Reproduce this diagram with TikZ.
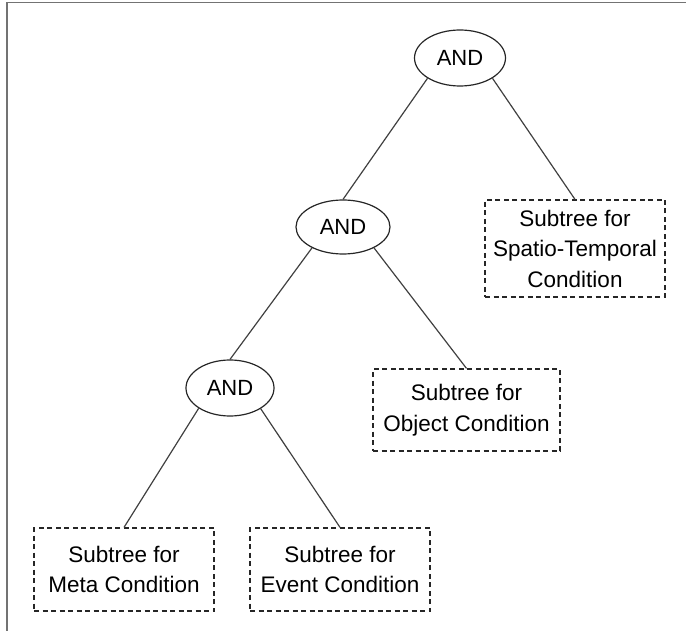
\documentclass[tikz,border=0pt]{standalone}
\usepackage{fontspec}
\setmainfont{Liberation Sans}
\usetikzlibrary{shapes.geometric}

\tikzset{
  andnode/.style={ellipse, draw=black!85, line width=1.2pt, inner sep=0pt,
    minimum width=91pt, minimum height=56pt,
    font=\fontsize{22}{28}\selectfont},
  subtree/.style={rectangle, draw=black!85, line width=1.2pt,
    dash pattern=on 5pt off 3.5pt, inner sep=0pt, align=center,
    font=\fontsize{22.5}{30.5}\selectfont},
  edge/.style={draw=black!75, line width=1.2pt},
  frame/.style={draw=black!55, line width=1.6pt}
}

\begin{document}
\begin{tikzpicture}[x=1pt, y=-1pt]
  \useasboundingbox (0,0) rectangle (686,631);

  % frame along the top and left edges
  \coordinate (fr1) at (7,2.5);
  \coordinate (fr0) at (7,631);
  \coordinate (fr2) at (686,2.5);
  \draw[frame] (fr0) -- (fr1) -- (fr2);

  % conjunction nodes
  \node[andnode] (a1) at (460,58)  {AND};
  \node[andnode, minimum width=94pt, minimum height=54pt] (a2) at (343,227) {AND};
  \node[andnode, minimum width=88pt] (a3) at (230,388) {AND};

  % subtree placeholders
  \node[subtree, minimum width=180pt, minimum height=97pt] (st) at (575,248.5)
    {Subtree for\\Spatio-Temporal\\Condition};
  \node[subtree, minimum width=187pt, minimum height=82pt] (ob) at (466.5,410)
    {Subtree for\\Object Condition};
  \node[subtree, minimum width=180pt, minimum height=83pt] (me) at (124,569.5)
    {Subtree for\\Meta Condition};
  \node[subtree, minimum width=180pt, minimum height=83pt] (ev) at (340,569.5)
    {Subtree for\\Event Condition};

  % tree edges
  \draw[edge] (a1.212) -- (a2.north);
  \draw[edge] (a1.-32) -- (st.north);
  \draw[edge] (a2.214) -- (a3.north);
  \draw[edge] (a2.-34) -- (ob.north);
  \draw[edge] (a3.213) -- (me.north);
  \draw[edge] (a3.-34) -- (ev.north);
\end{tikzpicture}
\end{document}
